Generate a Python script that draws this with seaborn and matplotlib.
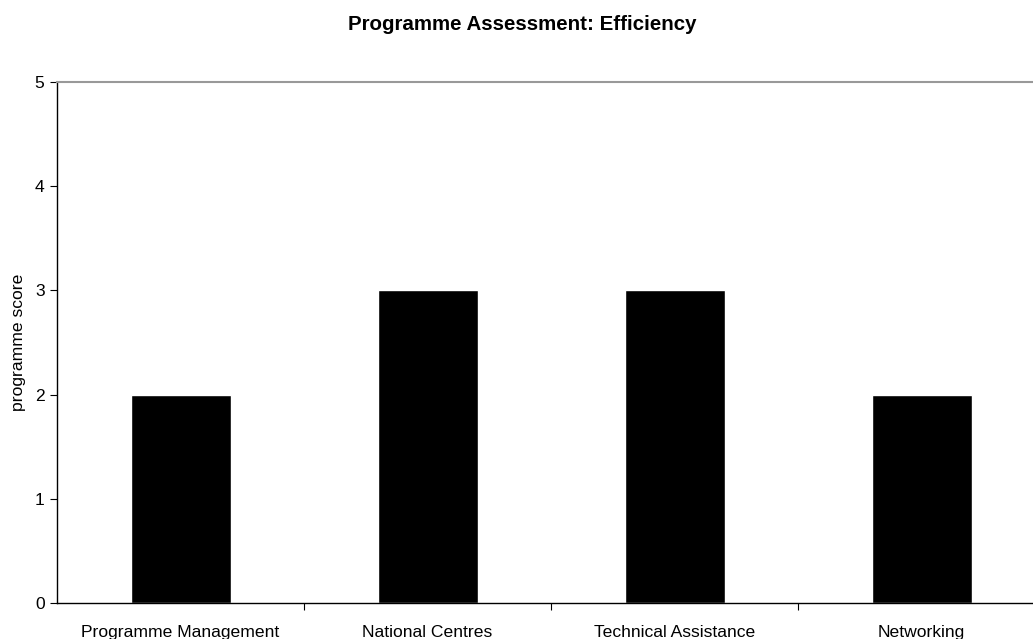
import pandas as pd
import matplotlib.pyplot as plt
import seaborn as sns
import numpy as np

# === DATOS ===
categorias = ['Programme Management', 'National Centres', 'Technical Assistance', 'Networking']
puntuacion = [2, 3, 3, 2]

df = pd.DataFrame({'categoria': categorias, 'puntuacion': puntuacion})

# === VISUALIZACIÓN ===
sns.set_style("white")
plt.rcParams['font.family'] = ['Liberation Sans', 'DejaVu Sans']
plt.rcParams['text.color'] = 'black'
plt.rcParams['xtick.color'] = 'black'
plt.rcParams['ytick.color'] = 'black'
plt.rcParams['axes.labelcolor'] = 'black'

fig = plt.figure(figsize=(10.33, 6.39), dpi=100)
ax = fig.add_axes([0.0552, 0.0563, 0.9565, 0.8153])

sns.barplot(data=df, x='categoria', y='puntuacion', color='black',
            width=0.405, saturation=1, ax=ax)

ax.set_ylim(0, 5)
ax.set_xlim(-0.5, len(categorias) - 0.5)
ax.set_yticks(range(0, 6))
ax.tick_params(axis='y', labelsize=12.6, left=True, length=5, width=0.8, pad=4)
ax.tick_params(axis='x', which='major', labelsize=12.6, length=0, pad=16)
ax.set_xticks(np.arange(0.5, len(categorias) - 0.5), minor=True)
ax.tick_params(axis='x', which='minor', bottom=True, length=5, width=0.8, direction='out')

ax.set_xlabel('')
ax.set_ylabel('programme score', fontsize=12.6, labelpad=6)
fig.text(0.506, 0.962, 'Programme Assessment: Efficiency', fontsize=14.8,
         fontweight='bold', ha='center', va='center')

for lado in ['left', 'bottom']:
    ax.spines[lado].set_color('black')
    ax.spines[lado].set_linewidth(1)
ax.spines['top'].set_color('#999999')
ax.spines['top'].set_linewidth(1.5)
ax.spines['right'].set_visible(False)

plt.savefig('out.png', dpi=100)
